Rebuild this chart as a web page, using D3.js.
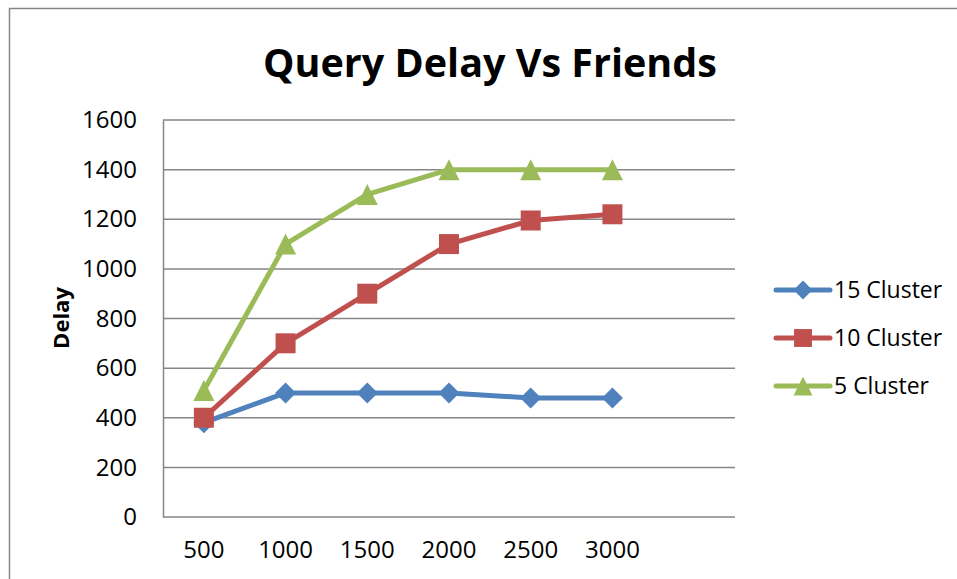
<!DOCTYPE html>
<html>
<head>
<meta charset="utf-8">
<script src="https://cdn.jsdelivr.net/npm/d3@7"></script>
<style>
  body { margin: 0; background: #fff; }
  text { font-family: "Open Sans", "Liberation Sans", sans-serif; fill: #000; }
</style>
</head>
<body>
<script>
var categories = ['500', '1000', '1500', '2000', '2500', '3000'];
var yTicks = [0, 200, 400, 600, 800, 1000, 1200, 1400, 1600];
var seriesNames = ['15 Cluster', '10 Cluster', '5 Cluster'];
var cluster15 = [380, 500, 500, 500, 480, 480];
var cluster10 = [400, 700, 900, 1100, 1195, 1220];
var cluster5 = [510, 1100, 1300, 1400, 1400, 1400];
var colors = ['#4F81BD', '#C0504D', '#9BBB59'];

var width = 957, height = 579;
var plot = { left: 163, right: 735, top: 120, bottom: 517 };

var svg = d3.select('body')
            .append('svg')
            .attr('width', width)
            .attr('height', height);

// chart border
svg.append('rect')
   .attr('x', 9.5).attr('y', 8.5)
   .attr('width', 960).attr('height', 600)
   .attr('fill', 'none')
   .attr('stroke', '#868686')
   .attr('stroke-width', 1.5);

// excel leaves an empty 7th slot on the category axis
var x = d3.scaleBand()
          .domain(categories.concat(['']))
          .range([plot.left, plot.right]);

var y = d3.scaleLinear()
          .domain([0, 1600])
          .range([plot.bottom, plot.top]);

var xc = function (c) { return x(c) + x.bandwidth() / 2; };

// gridlines
svg.append('g')
   .selectAll('line')
   .data(yTicks)
   .enter()
   .append('line')
   .attr('x1', plot.left).attr('x2', plot.right)
   .attr('y1', function (d) { return y(d); })
   .attr('y2', function (d) { return y(d); })
   .attr('stroke', '#868686')
   .attr('stroke-width', 1.5);

// y axis
var yAxis = svg.append('g')
               .attr('transform', 'translate(' + plot.left + ',0)')
               .call(d3.axisLeft(y).tickValues(yTicks).tickFormat(d3.format('d')).tickSize(0).tickPadding(26));
yAxis.select('.domain').attr('stroke', '#868686').attr('stroke-width', 1.5);
yAxis.selectAll('text')
     .style('font-size', '24px')
     .style('font-family', '"Open Sans", sans-serif')
     .attr('fill', '#000');

// x axis labels
var xAxis = svg.append('g')
               .attr('transform', 'translate(0,' + plot.bottom + ')')
               .call(d3.axisBottom(x).tickValues(categories).tickSize(0).tickPadding(24));
xAxis.select('.domain').remove();
xAxis.selectAll('text')
     .style('font-size', '24px')
     .style('font-family', '"Open Sans", sans-serif')
     .attr('fill', '#000');

// title
svg.append('text')
   .attr('x', 490).attr('y', 77)
   .attr('text-anchor', 'middle')
   .style('font-size', '39.5px')
   .style('font-weight', 'bold')
   .text('Query Delay Vs Friends');

// y axis title
svg.append('text')
   .attr('transform', 'translate(69,318) rotate(-90)')
   .attr('text-anchor', 'middle')
   .style('font-size', '22px')
   .style('font-weight', 'bold')
   .text('Delay');

// excel style markers: diamond, square, triangle with same box size
var markerDiamond = { draw: function (ctx, size) {
    var r = Math.sqrt(size) / 2;
    ctx.moveTo(0, -r); ctx.lineTo(r, 0); ctx.lineTo(0, r); ctx.lineTo(-r, 0); ctx.closePath();
} };
var markerTriangle = { draw: function (ctx, size) {
    var r = Math.sqrt(size) / 2;
    ctx.moveTo(0, -r); ctx.lineTo(r, r); ctx.lineTo(-r, r); ctx.closePath();
} };

var series = [cluster15, cluster10, cluster5];
var symbols = [markerDiamond, d3.symbolSquare, markerTriangle];
var symbolSizes = [441, 400, 441];

var line = d3.line()
             .x(function (d, i) { return xc(categories[i]); })
             .y(function (d) { return y(d); });

series.forEach(function (vals, s) {
    svg.append('path')
       .datum(vals)
       .attr('d', line)
       .attr('fill', 'none')
       .attr('stroke', colors[s])
       .attr('stroke-width', 5)
       .attr('stroke-linejoin', 'round')
       .attr('stroke-linecap', 'round');

    svg.append('g')
       .selectAll('path')
       .data(vals)
       .enter()
       .append('path')
       .attr('d', d3.symbol().type(symbols[s]).size(symbolSizes[s]))
       .attr('transform', function (d, i) {
           return 'translate(' + xc(categories[i]) + ',' + y(d) + ')';
       })
       .attr('fill', colors[s]);
});

// legend
var legend = svg.append('g')
                .selectAll('g')
                .data(seriesNames)
                .enter()
                .append('g')
                .attr('transform', function (d, i) {
                    return 'translate(776,' + (290 + i * 48) + ')';
                });

legend.append('line')
      .attr('x1', 0).attr('x2', 54)
      .attr('stroke', function (d, i) { return colors[i]; })
      .attr('stroke-width', 5)
      .attr('stroke-linecap', 'round');

legend.append('path')
      .attr('d', function (d, i) { return d3.symbol().type(symbols[i]).size(symbolSizes[i] * 0.8)(); })
      .attr('transform', 'translate(27,0)')
      .attr('fill', function (d, i) { return colors[i]; });

legend.append('text')
      .attr('x', 58)
      .attr('dy', '0.35em')
      .style('font-size', '23px')
      .text(function (d) { return d; });
</script>
</body>
</html>
